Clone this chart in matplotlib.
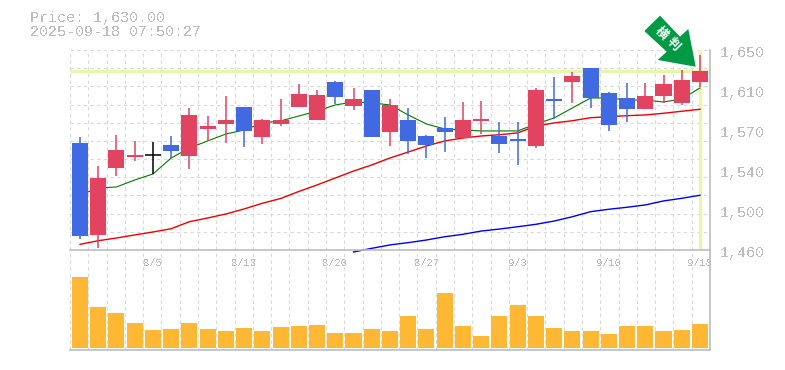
import matplotlib
matplotlib.use("Agg")
import matplotlib.pyplot as plt
from matplotlib.patches import Polygon
import numpy as np

W, H = 785, 370
# price scale: 1650 at the top of the panel, 1460 at the bottom
YMIN, YMAX = 1460, 1650

opens = [1561.7, 1474.3, 1538.2, 1548.4, 1550.0, 1559.8, 1549.3, 1574.9, 1579.7, 1595.9, 1567.4, 1579.7,
         1595.9, 1583.5, 1619.6, 1596.8, 1612.0, 1572.1, 1583.5, 1568.3, 1575.9, 1566.4, 1582.6,
         1568.3, 1565.5, 1558.8, 1603.5, 1619.6, 1632.9, 1609.2, 1604.4, 1594.0, 1606.3, 1599.7, 1619.6]
closes = [1473.6, 1528.4, 1555.0, 1550.3, 1550.0, 1554.1, 1588.3, 1577.8, 1583.5, 1573.1, 1583.5, 1583.5,
          1608.2, 1607.3, 1605.4, 1603.5, 1567.4, 1597.8, 1563.6, 1559.8, 1572.1, 1583.5, 1584.5,
          1560.7, 1563.6, 1612.0, 1601.5, 1625.3, 1604.4, 1578.8, 1594.0, 1606.3, 1617.7, 1621.5, 1630.0]
highs = [1567.4, 1539.8, 1569.3, 1563.6, 1562.6, 1568.3, 1594.9, 1587.3, 1606.3, 1595.9, 1584.5, 1603.5,
         1617.7, 1612.0, 1620.5, 1613.9, 1612.0, 1603.5, 1594.9, 1569.3, 1586.4, 1600.6, 1601.5,
         1581.6, 1581.6, 1613.9, 1624.4, 1629.1, 1632.9, 1610.1, 1618.7, 1618.7, 1626.3, 1631.0, 1645.3]
lows = [1470.7, 1462.2, 1530.3, 1544.6, 1532.2, 1547.4, 1536.9, 1563.6, 1561.7, 1557.9, 1560.7, 1577.8,
        1595.9, 1583.5, 1598.7, 1593.0, 1567.4, 1558.8, 1551.2, 1547.4, 1553.1, 1566.4, 1570.2,
        1552.2, 1540.8, 1556.9, 1584.5, 1599.7, 1594.9, 1573.1, 1581.6, 1594.0, 1599.7, 1597.8, 1614.9]

ma_short = [1512.3, 1518.9, 1519.9, 1526.5, 1532.2, 1547.4, 1556.9, 1563.6, 1570.2, 1574.0, 1580.7, 1582.6,
            1587.3, 1592.0, 1597.8, 1600.6, 1599.7, 1597.8, 1588.3, 1579.7, 1575.0, 1574.0, 1573.1,
            1573.1, 1573.1, 1579.7, 1585.4, 1594.9, 1604.4, 1604.4, 1602.5, 1602.5, 1600.6, 1603.5, 1613.9]
ma_mid = [1465.4, 1468.8, 1471.4, 1474.3, 1477.1, 1480.2, 1486.9, 1490.4, 1494.2, 1499.0, 1504.4, 1508.9,
          1515.6, 1521.8, 1528.4, 1535.0, 1540.8, 1547.4, 1553.1, 1558.8, 1563.6, 1566.4, 1568.3,
          1569.5, 1571.2, 1577.8, 1580.7, 1582.8, 1585.7, 1586.6, 1587.6, 1588.3, 1589.9, 1591.8, 1593.7]
ma_long = [np.nan] * 15 + [1458.1, 1461.6, 1464.8, 1467.0, 1469.5, 1472.6, 1474.9, 1478.0, 1479.9, 1482.1,
                           1484.4, 1487.5, 1491.6, 1496.4, 1498.7, 1500.6, 1502.8, 1506.6, 1509.1, 1512.0]

volumes = [71, 41, 35, 25, 18, 19, 25, 19, 17, 20, 17, 21, 22, 23, 15, 15, 19, 17,
           32, 19, 55, 22, 12, 32, 43, 32, 20, 17, 17, 14, 22, 22, 17, 18, 24]

tick_values = [1650, 1612, 1574, 1536, 1498, 1460]
tick_labels = ["1,650", "1,610", "1,570", "1,540", "1,500", "1,460"]
date_idx = [4, 9, 14, 19, 24, 29, 34]
date_labels = ["8/5", "8/13", "8/20", "8/27", "9/3", "9/10", "9/18"]
current_price = 1630

RED = "#E24361"
BLUE = "#4169E1"
GREY = "#BDBDBD"
GRID = "#D8D8D8"
HILITE = "#E6F7A8"
MONO = "Liberation Mono"
DASH = (0, (3, 3))

plt.rcParams["text.antialiased"] = False


def px_axes(fig, x0, y0, x1, y1):
    return fig.add_axes([x0 / W, 1 - y1 / H, (x1 - x0) / W, (y1 - y0) / H])


fig = plt.figure(figsize=(W / 100, H / 100), dpi=100, facecolor="white")
vol = px_axes(fig, 70, 250, 710, 350)
ax = px_axes(fig, 70, 50, 710, 250)  # on top, so the long average can run just under the panel

xlim = (-0.548, 34.55)
xs = np.arange(len(opens))
grid_x = np.linspace(xlim[0], xlim[1], 36)

for a in (ax, vol):
    a.patch.set_visible(False)
    a.set_xlim(xlim)
    a.set_xticks([])
    a.set_yticks([])
    for s in ("left", "top"):
        a.spines[s].set_visible(False)
    for s in ("right", "bottom"):
        a.spines[s].set_color(GREY)
        a.spines[s].set_linewidth(1.2)
    for gx in grid_x[:-1]:
        a.axvline(gx, color=GRID, lw=0.8, ls=DASH, zorder=0)

ax.set_ylim(YMIN, YMAX)
for gy in np.linspace(YMIN, YMAX, 12)[1:]:
    ax.axhline(gy, color=GRID, lw=0.8, ls=DASH, zorder=0)

# current price cross-hair
ax.axhline(current_price, color=HILITE, lw=2.3, zorder=1)
ax.axvline(xs[-1], color=HILITE, lw=2.3, zorder=1)

ax.plot(xs, ma_short, color="#007A00", lw=0.8, zorder=2)
ax.plot(xs, ma_mid, color="#F00000", lw=1.0, zorder=2)
ax.plot(xs, ma_long, color="#0000F0", lw=1.0, zorder=2, clip_on=False)

for x, o, h, l, c in zip(xs, opens, highs, lows, closes):
    col = RED if c > o else BLUE if c < o else "black"
    ax.vlines(x, l, h, color=col, lw=1.1, zorder=3)
    if c == o:
        ax.hlines(c, x - 0.44, x + 0.44, color=col, lw=1.1, zorder=4)
    else:
        ax.bar(x, abs(c - o), bottom=min(o, c), width=0.88, color=col, zorder=4)

vol.bar(xs, volumes, width=0.88, color="#FFB833", zorder=3)
vol.set_ylim(-2, 98)

for v, lab in zip(tick_values, tick_labels):
    ax.annotate(lab, xy=(1, v), xycoords=("axes fraction", "data"), xytext=(10, -3),
                textcoords="offset pixels", color=GREY, fontsize=10.8, family=MONO,
                ha="left", va="center", annotation_clip=False)

for i, lab in zip(date_idx, date_labels):
    vol.text(i, 85, lab, color=GREY, fontsize=7.6, family=MONO, ha="center", va="center",
             clip_on=False)

fig.text(30 / W, 1 - 18 / H, "Price: 1,630.00", color=GREY, fontsize=10.8, family=MONO, va="center")
fig.text(30 / W, 1 - 32.5 / H, "2025-09-18 07:50:27", color=GREY, fontsize=10.8, family=MONO, va="center")

# green arrow pointing at the last candle, in pixels
arrow = [(660, 15.7), (680, 36.7), (688.3, 29), (695.7, 66.7), (657.7, 60), (666.7, 51.7), (644.3, 31)]
fig.add_artist(Polygon([(x / W, 1 - y / H) for x, y in arrow], closed=True, transform=fig.transFigure,
                       facecolor="#009A44", edgecolor="none", zorder=10))
for cx, cy, ch in [(661, 33, "横"), (673, 44.5, "判")]:
    fig.text(cx / W, 1 - cy / H, ch, color="white", fontsize=9, rotation=-45, ha="center", va="center",
             family=["Noto Sans CJK JP", "DejaVu Sans"], fontweight="bold", zorder=11, antialiased=True)

fig.savefig("out.png", dpi=100, facecolor="white")
